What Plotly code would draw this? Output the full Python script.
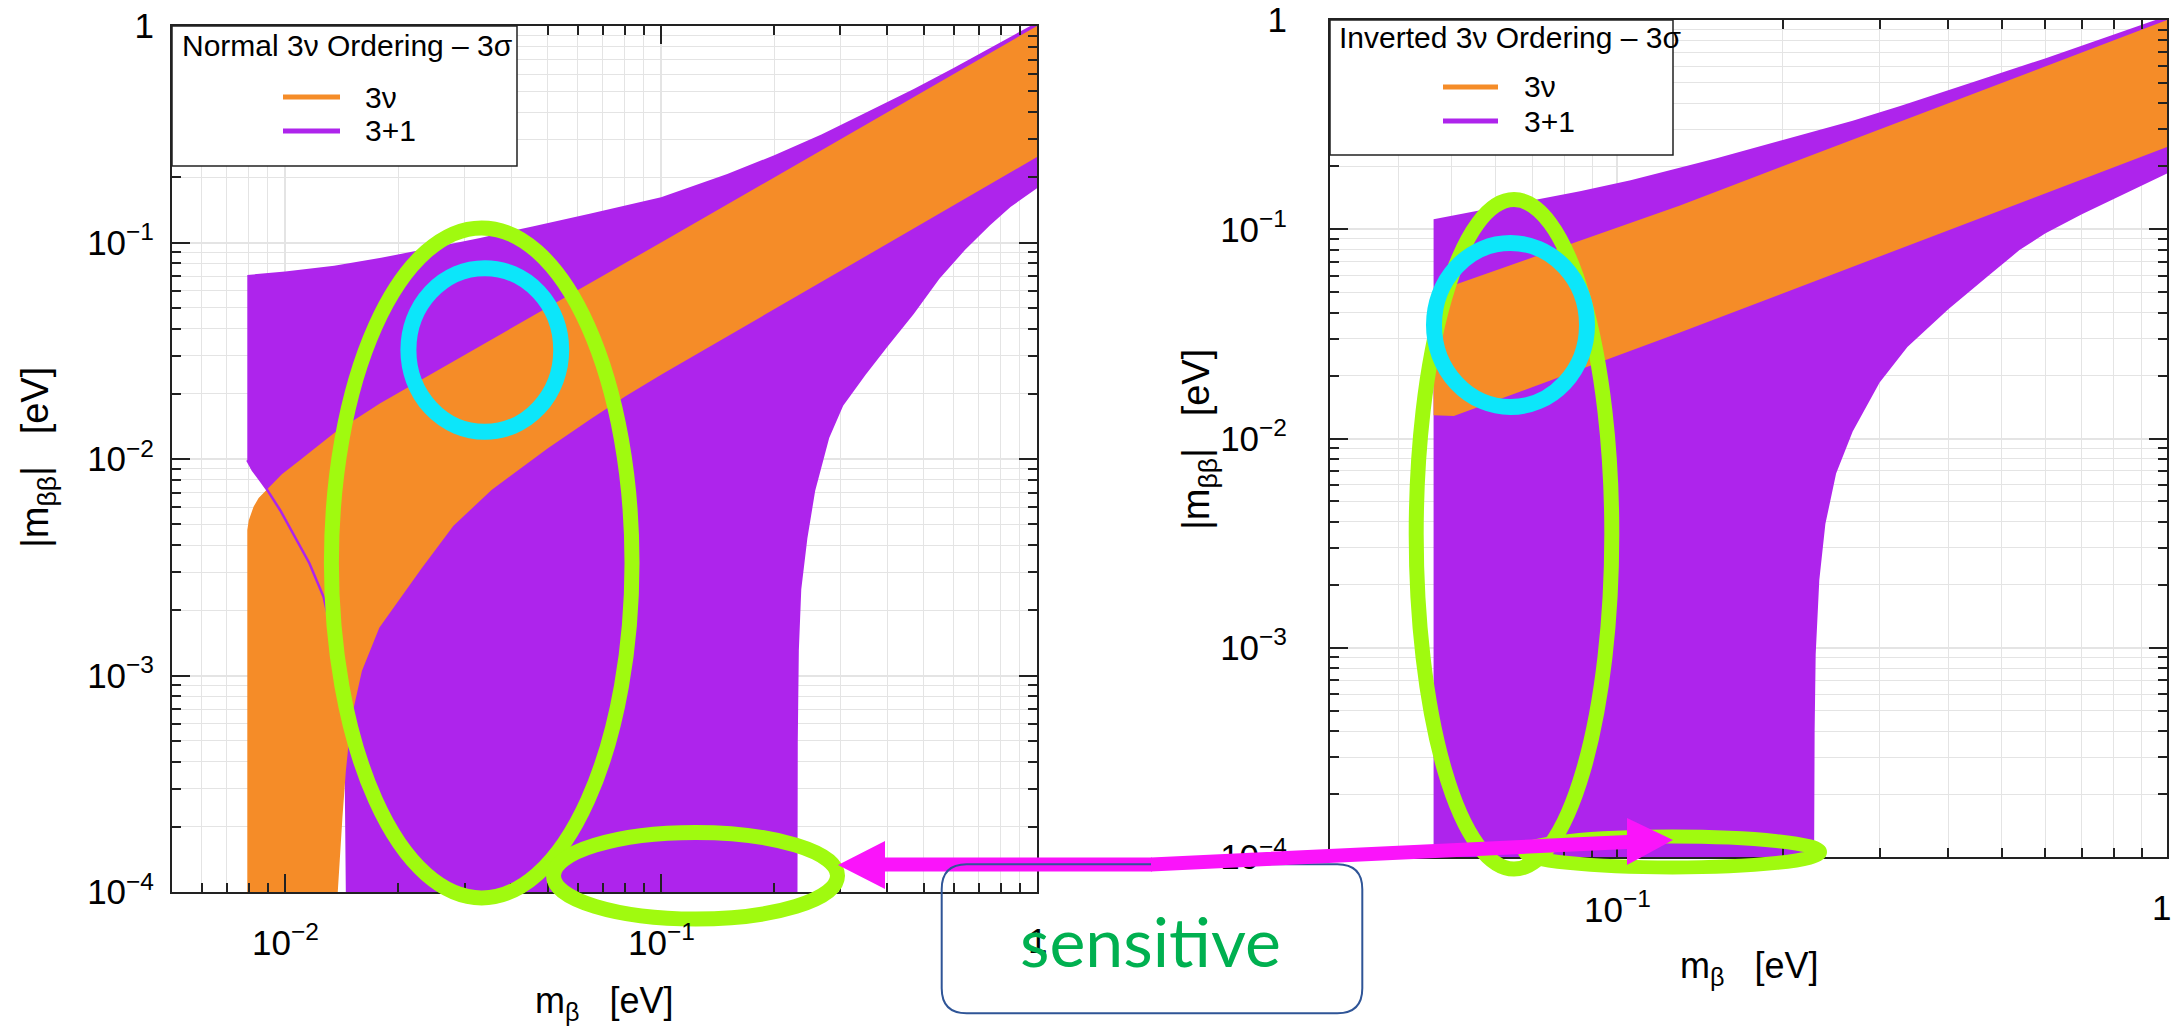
import math
import plotly.graph_objects as go

W, H = 2173, 1026

# ---------------- data ----------------
# Normal ordering (left panel): 3nu band (orange), boundary polygon
no_3nu_x = [0.00793, 0.00793, 0.0080, 0.00824, 0.0085, 0.00894, 0.0098, 0.01096, 0.0135,
            0.0179, 0.1, 1.0,
            1.0, 0.1, 0.0804, 0.065, 0.05, 0.0354, 0.028, 0.023, 0.020, 0.0178, 0.016,
            0.01496, 0.0145, 0.0142, 0.0138]
no_3nu_y = [1e-4, 0.0047, 0.0052, 0.00602, 0.0066, 0.00724, 0.0085, 0.00989, 0.0132,
            0.0181, 0.1, 1.0,
            0.248, 0.0245, 0.0195, 0.0153, 0.0112, 0.0072, 0.0049, 0.0031, 0.00222, 0.00166, 0.00105,
            6.2e-4, 3.6e-4, 2.2e-4, 1e-4]

# Normal ordering: 3+1 region (purple)
no_31_x = [0.00793, 0.010, 0.0135, 0.018, 0.0231, 0.033, 0.0458, 0.065, 0.1, 0.15, 0.2,
           0.267, 0.35, 0.47, 0.6, 0.8, 1.0,
           1.0, 0.85, 0.75, 0.643, 0.55, 0.47, 0.40, 0.35, 0.305, 0.28, 0.257, 0.245,
           0.236, 0.2325, 0.231, 0.2306,
           0.0145, 0.0144, 0.0140, 0.0134, 0.01265, 0.0116, 0.0106, 0.0097, 0.00894,
           0.00858, 0.0082, 0.00793]
no_31_y = [0.0708, 0.0735, 0.078, 0.085, 0.0925, 0.105, 0.119, 0.136, 0.162, 0.207, 0.253,
           0.315, 0.397, 0.512, 0.64, 0.84, 1.04,
           0.178, 0.146, 0.12, 0.0923, 0.068, 0.0467, 0.033, 0.0245, 0.0176, 0.0125, 0.00713, 0.0043,
           0.0025, 0.0013, 5e-4, 1e-4,
           1e-4, 3.5e-4, 8e-4, 0.0015, 0.00231, 0.0033, 0.0044, 0.0058, 0.00724,
           0.0080, 0.0089, 0.00989]

# thin visible 3+1 lower-left edge over the orange band
no_31_edge_x = [0.00793, 0.0082, 0.00858, 0.00894, 0.0097, 0.0106, 0.0116, 0.01265, 0.0134, 0.0140]
no_31_edge_y = [0.00989, 0.0089, 0.0080, 0.00724, 0.0058, 0.0044, 0.0033, 0.00231, 0.0015, 8e-4]

# Inverted ordering (right panel): 3nu band
io_3nu_x = [0.0463, 0.0463, 0.13, 0.33, 1.0, 1.0, 0.33, 0.13, 0.0504, 0.0463]
io_3nu_y = [0.0129, 0.050, 0.13, 0.33, 1.0, 0.247, 0.0815, 0.0321, 0.0128, 0.0129]

# Inverted ordering: 3+1 region
io_31_x = [0.0463, 0.06, 0.0855, 0.1057, 0.151, 0.2, 0.268, 0.327, 0.4, 0.475, 0.6, 0.8, 1.0,
           1.0, 0.85, 0.7, 0.6, 0.539, 0.475, 0.40, 0.337, 0.30, 0.268, 0.25, 0.239,
           0.233, 0.2295, 0.2285, 0.228, 0.0463]
io_31_y = [0.1117, 0.127, 0.152, 0.1715, 0.218, 0.267, 0.33, 0.388, 0.46, 0.535, 0.655, 0.85, 1.045,
           0.1846, 0.151, 0.118, 0.0955, 0.0795, 0.0604, 0.0415, 0.0274, 0.0185, 0.0108, 0.0068, 0.0039,
           0.0021, 9.3e-4, 4e-4, 1e-4, 1e-4]

# ticks
y_major = [1e-4, 1e-3, 1e-2, 1e-1, 1]
y_major_text = ["10<sup>−4</sup>", "10<sup>−3</sup>", "10<sup>−2</sup>", "10<sup>−1</sup>", "1"]
x_left_major = [0.01, 0.1, 1]
x_left_major_text = ["10<sup>−2</sup>", "10<sup>−1</sup>", "1"]
x_right_major = [0.1, 1]
x_right_major_text = ["10<sup>−1</sup>", "1"]
minor_mult = [2, 3, 4, 5, 6, 7, 8, 9]

legend_left_title = "Normal 3ν Ordering – 3σ"
legend_right_title = "Inverted 3ν Ordering – 3σ"
series_names = ["3ν", "3+1"]

# ---------------- styles ----------------
ORANGE = "#F58C28"
PURPLE = "#AE24EC"
LIME = "#A0FA0F"
CYAN = "#0CE6FA"
MAGENTA = "#FA14FA"
BOXBLUE = "#2F5597"
TXTGREEN = "#00B050"
AXFONT = "Liberation Sans"


def px(x):
    return x / W


def py(y):
    return 1 - y / H


fig = go.Figure()

# left panel
fig.add_trace(go.Scatter(x=no_31_x, y=no_31_y, fill="toself", fillcolor=PURPLE,
                         mode="lines", line=dict(width=0, color=PURPLE),
                         showlegend=False, hoverinfo="skip", xaxis="x", yaxis="y"))
fig.add_trace(go.Scatter(x=no_3nu_x, y=no_3nu_y, fill="toself", fillcolor=ORANGE,
                         mode="lines", line=dict(width=0, color=ORANGE),
                         showlegend=False, hoverinfo="skip", xaxis="x", yaxis="y"))
fig.add_trace(go.Scatter(x=no_31_edge_x, y=no_31_edge_y, mode="lines",
                         line=dict(width=2.5, color=PURPLE),
                         showlegend=False, hoverinfo="skip", xaxis="x", yaxis="y"))
# right panel
fig.add_trace(go.Scatter(x=io_31_x, y=io_31_y, fill="toself", fillcolor=PURPLE,
                         mode="lines", line=dict(width=0, color=PURPLE),
                         showlegend=False, hoverinfo="skip", xaxis="x2", yaxis="y2"))
fig.add_trace(go.Scatter(x=io_3nu_x, y=io_3nu_y, fill="toself", fillcolor=ORANGE,
                         mode="lines", line=dict(width=0, color=ORANGE),
                         showlegend=False, hoverinfo="skip", xaxis="x2", yaxis="y2"))


def minor_vals(decades):
    return [m * d for d in decades for m in minor_mult]


TICKFONT = dict(family=AXFONT, size=35, color="black")
common = dict(type="log", showline=True, linecolor="#222", linewidth=2,
              mirror="ticks", ticks="inside", ticklen=18, tickwidth=2,
              tickcolor="#222", showgrid=True, gridcolor="#E4E4E4", gridwidth=1.5,
              zeroline=False, tickfont=TICKFONT, tickmode="array", automargin=False)

minor_common = dict(ticks="inside", ticklen=9, tickwidth=1.5, tickcolor="#222",
                    showgrid=True, gridcolor="#E4E4E4", gridwidth=1.2)

fig.update_layout(
    width=W, height=H, margin=dict(l=0, r=0, t=0, b=0, pad=0, autoexpand=False),
    paper_bgcolor="white", plot_bgcolor="white",
    xaxis=dict(domain=[px(172), px(1037)], range=[-2.30103, 0], anchor="y",
               tickvals=x_left_major, ticktext=x_left_major_text, showticklabels=False,
               minor=dict(tickvals=minor_vals([0.001, 0.01, 0.1]), **minor_common),
               **common),
    yaxis=dict(domain=[py(892), py(26)], range=[-4, 0], anchor="x",
               tickvals=y_major, ticktext=y_major_text,
               minor=dict(tickvals=minor_vals([1e-4, 1e-3, 1e-2, 1e-1]), **minor_common),
               ticklabelstandoff=9, **common),
    xaxis2=dict(domain=[px(1330), px(2167)], range=[-1.52288, 0], anchor="y2",
                tickvals=x_right_major, ticktext=x_right_major_text, showticklabels=False,
                minor=dict(tickvals=minor_vals([0.01, 0.1]), **minor_common),
                **common),
    yaxis2=dict(domain=[py(857), py(20)], range=[-4, 0], anchor="x2",
                tickvals=y_major, ticktext=y_major_text,
                minor=dict(tickvals=minor_vals([1e-4, 1e-3, 1e-2, 1e-1]), **minor_common),
                ticklabelstandoff=34, **common),
)

annotations = []
shapes = []

# x tick labels placed on the axes' own (log) scale
for xref, vals, texts, ylab in [("x", x_left_major, x_left_major_text, 940),
                                ("x2", x_right_major, x_right_major_text, 907)]:
    for v, t in zip(vals, texts):
        last = (xref == "x2" and v == x_right_major[-1])
        annotations.append(dict(x=math.log10(v), y=py(ylab), xshift=(6 if last else 0),
                                xref=xref, yref="paper", text=t, showarrow=False,
                                xanchor="right" if last else "center", yanchor="middle",
                                font=TICKFONT))

# axis titles
XT = "m<sub>β</sub>\u00a0\u00a0\u00a0[eV]"
YT = "|m<sub>ββ</sub>|\u00a0\u00a0\u00a0[eV]"
for (cx, cy, txt, ang, fs) in [(604, 1003, XT, 0, 36), (1749, 968, XT, 0, 36),
                               (38, 458, YT, -90, 38), (1199, 440, YT, -90, 38)]:
    annotations.append(dict(x=px(cx), y=py(cy), xref="paper", yref="paper", text=txt,
                            showarrow=False, textangle=ang, xanchor="center", yanchor="middle",
                            font=dict(family=AXFONT, size=fs, color="black")))

# legends (box, title, line samples, labels)
legends = [
    dict(box=(172, 26, 517, 166), title=legend_left_title, tx=180, ty=45,
         lx0=283, lx1=340, ly=[97, 131], labx=363),
    dict(box=(1330, 20, 1673, 155), title=legend_right_title, tx=1337, ty=38,
         lx0=1443, lx1=1498, ly=[87, 121], labx=1522),
]
for lg in legends:
    x0, y0, x1, y1 = lg["box"]
    shapes.append(dict(type="rect", xref="paper", yref="paper", x0=px(x0), x1=px(x1),
                       y0=py(y1), y1=py(y0), fillcolor="white",
                       line=dict(color="#222", width=1.5), layer="above"))
    annotations.append(dict(x=px(lg["tx"]), y=py(lg["ty"]), xref="paper", yref="paper",
                            text=lg["title"], showarrow=False, xanchor="left", yanchor="middle",
                            font=dict(family=AXFONT, size=30, color="black")))
    for name, col, yy in zip(series_names, [ORANGE, PURPLE], lg["ly"]):
        shapes.append(dict(type="line", xref="paper", yref="paper",
                           x0=px(lg["lx0"]), x1=px(lg["lx1"]), y0=py(yy), y1=py(yy),
                           line=dict(color=col, width=5), layer="above"))
        annotations.append(dict(x=px(lg["labx"]), y=py(yy), xref="paper", yref="paper",
                                text=name, showarrow=False, xanchor="left", yanchor="middle",
                                font=dict(family=AXFONT, size=30, color="black")))

# hand-drawn highlight ellipses
ellipses = [
    (481.7, 562.9, 150.3, 335.0, LIME, 15),
    (695.5, 875.8, 142.0, 43.3, LIME, 15),
    (1514.0, 534.3, 97.8, 334.7, LIME, 15),
    (1672.5, 852.0, 147.5, 15.4, LIME, 14),
    (484.8, 350.0, 76.4, 81.8, CYAN, 16),
    (1510.5, 325.0, 76.5, 82.0, CYAN, 16),
]
for cx, cy, rx, ry, col, lw in ellipses:
    shapes.append(dict(type="circle", xref="paper", yref="paper",
                       x0=px(cx - rx), x1=px(cx + rx), y0=py(cy + ry), y1=py(cy - ry),
                       line=dict(color=col, width=lw), layer="above"))


def P(a, b):
    return f"{px(a):.6f},{py(b):.6f}"


def path_from(points):
    return "M " + " L ".join(P(a, b) for a, b in points) + " Z"


# double arrow, left part (under the box border)
arrow_left = [(838, 865), (885, 841), (885, 857.5), (1152, 857.5),
              (1152, 871.5), (885, 871.5), (885, 889)]
shapes.append(dict(type="path", xref="paper", yref="paper", path=path_from(arrow_left),
                   fillcolor=MAGENTA, line=dict(width=0), layer="above"))

# rounded box
bx0, by0, bx1, by1, r = 941.7, 864.3, 1362.3, 1013.3, 25
box_path = (f"M {P(bx0 + r, by0)} L {P(bx1 - r, by0)} Q {P(bx1, by0)} {P(bx1, by0 + r)} "
            f"L {P(bx1, by1 - r)} Q {P(bx1, by1)} {P(bx1 - r, by1)} "
            f"L {P(bx0 + r, by1)} Q {P(bx0, by1)} {P(bx0, by1 - r)} "
            f"L {P(bx0, by0 + r)} Q {P(bx0, by0)} {P(bx0 + r, by0)} Z")
shapes.append(dict(type="path", xref="paper", yref="paper", path=box_path,
                   line=dict(color=BOXBLUE, width=2), fillcolor="rgba(0,0,0,0)", layer="above"))

# double arrow, right part
arrow_right = [(1151, 857.5), (1627, 835), (1627, 818), (1673, 840),
               (1627, 865), (1627, 849), (1151, 871.5)]
shapes.append(dict(type="path", xref="paper", yref="paper", path=path_from(arrow_right),
                   fillcolor=MAGENTA, line=dict(width=0), layer="above"))

annotations.append(dict(x=px(1151), y=py(940), xref="paper", yref="paper", text="sensitive",
                        showarrow=False, xanchor="center", yanchor="middle",
                        font=dict(family="Lato", size=68, color=TXTGREEN)))

fig.update_layout(shapes=shapes, annotations=annotations)
fig.write_html("out.html")
